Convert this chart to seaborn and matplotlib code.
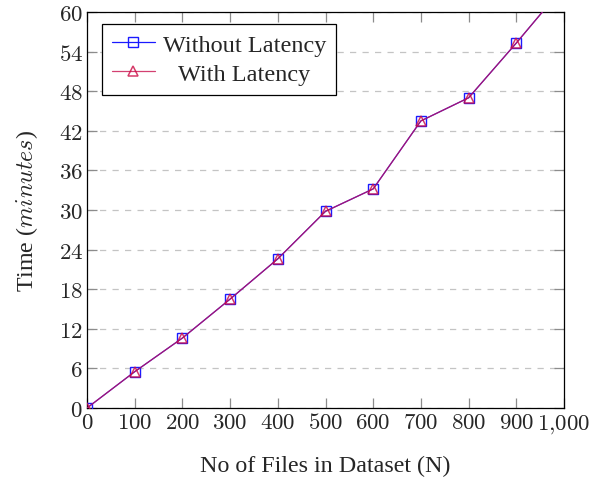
import matplotlib
matplotlib.use("Agg")
import matplotlib.pyplot as plt
import seaborn as sns
import pandas as pd

# Processing time versus dataset size
files = [0, 100, 200, 300, 400, 500, 600, 700, 800, 900, 1000]
without_latency = [0, 5.5, 10.6, 16.5, 22.6, 29.8, 33.2, 43.5, 47.0, 55.3, 63.9]
with_latency = [0, 5.5, 10.6, 16.5, 22.6, 29.8, 33.2, 43.5, 47.0, 55.3, 63.9]
series_names = ["Without Latency", "With Latency"]
x_ticks = [0, 100, 200, 300, 400, 500, 600, 700, 800, 900, 1000]
x_tick_labels = ["0", "100", "200", "300", "400", "500", "600", "700", "800", "900", "1{,}000"]
y_ticks = [0, 6, 12, 18, 24, 30, 36, 42, 48, 54, 60]

sns.set_theme(style="white")
plt.rcParams["font.family"] = ["Liberation Serif", "DejaVu Serif"]
plt.rcParams["mathtext.fontset"] = "cm"

FS_TICK = 16.5
FS_LABEL = 17.3
FS_LEG = 17.5

df = pd.DataFrame({
    "N": files * 2,
    "Time": without_latency + with_latency,
    "Series": [series_names[0]] * len(files) + [series_names[1]] * len(files),
})

fig = plt.figure(figsize=(6.08, 4.81), dpi=100)
ax = fig.add_axes([87 / 608, 1 - 409 / 481, (564 - 87) / 608, (409 - 13) / 481])

sns.lineplot(data=df[df.Series == series_names[0]], x="N", y="Time", ax=ax,
             color="#1a1aff", lw=0.9, marker="s", markersize=7,
             markerfacecolor="none", markeredgecolor="#1a1aff", markeredgewidth=1.0,
             label=series_names[0], zorder=3)
sns.lineplot(data=df[df.Series == series_names[1]], x="N", y="Time", ax=ax,
             color="#c8104e", lw=0.9, alpha=0.8, marker="^", markersize=6.5,
             markerfacecolor="none", markeredgecolor="#cc0a44", markeredgewidth=1.1,
             label=series_names[1], zorder=4)

ax.set_xlim(0, 1000)
ax.set_ylim(0, 60)
ax.set_xticks(x_ticks)
ax.set_xticklabels([f"${t}$" for t in x_tick_labels], fontsize=FS_TICK)
ax.set_yticks(y_ticks)
ax.set_yticklabels([f"${t}$" for t in y_ticks], fontsize=FS_TICK)

ax.tick_params(axis="both", which="major", direction="in", length=7, width=0.9,
               color="#8c8c8c", top=True, right=True, bottom=True, left=True, pad=3)

ax.yaxis.grid(True, linestyle=(0, (5, 5)), color="#c4c4c4", linewidth=0.9)
ax.xaxis.grid(False)
ax.set_axisbelow(True)

for s in ax.spines.values():
    s.set_color("black")
    s.set_linewidth(0.9)

ax.set_xlabel("No of Files in Dataset (N)", fontsize=FS_LABEL, labelpad=14)
ax.set_ylabel(r"Time ($minutes$)", fontsize=FS_LABEL, labelpad=13)

leg = ax.legend(loc="upper left", bbox_to_anchor=(0.031, 0.97), fontsize=FS_LEG,
                frameon=True, fancybox=False, framealpha=1, edgecolor="black",
                handlelength=1.8, handletextpad=0.3, labelspacing=0.3,
                borderpad=0.4, borderaxespad=0)
leg.get_frame().set_linewidth(0.9)

# center the legend entries within their column
fig.canvas.draw()
r = fig.canvas.get_renderer()
texts = leg.get_texts()
widths = [t.get_window_extent(r).width for t in texts]
wmax = max(widths)
for t, w in zip(texts, widths):
    t.set_x((wmax - w) / 2)

fig.savefig("out.png", dpi=100)
